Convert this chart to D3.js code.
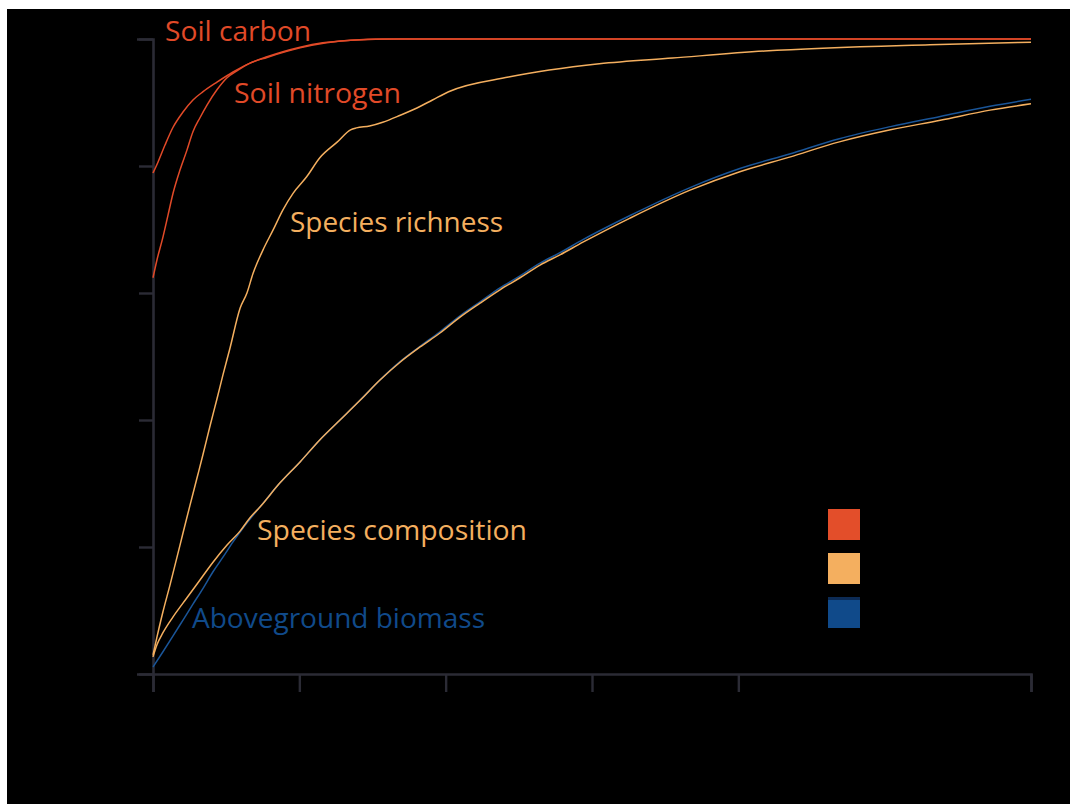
<!DOCTYPE html>
<html>
<head>
<meta charset="utf-8">
<script src="https://cdn.jsdelivr.net/npm/d3@7"></script>
<style>
  html, body { margin: 0; padding: 0; background: #ffffff; }
  svg { display: block; }
</style>
</head>
<body>
<svg id="chart" width="1070" height="804"></svg>
<script>
// ---- data (years since start, percent of reference level) ----
const soilCarbonX   = [0, 0.34, 0.82, 1.37, 2.05, 2.73, 3.42, 4.37, 5.47, 6.63, 7.79, 8.88, 10.05, 11.6, 13.5, 15.7, 30, 45, 60];
const soilCarbonY   = [78.9, 80.6, 83.3, 86.1, 88.5, 90.4, 91.7, 93.2, 94.8, 96.2, 97.2, 98.0, 98.7, 99.4, 99.8, 100, 100, 100, 100];

const soilNitrogenX = [0, 0.27, 0.68, 1.03, 1.37, 1.85, 2.32, 2.73, 3.21, 3.69, 4.37, 5.06, 5.81, 6.63, 7.79, 10.05, 13.5, 16.9, 30, 45, 60];
const soilNitrogenY = [62.4, 65.2, 68.8, 72.3, 75.7, 79.4, 82.5, 85.4, 87.6, 89.6, 92.0, 93.9, 95.1, 96.2, 97.1, 98.6, 99.8, 100, 100, 100, 100];

const richnessX = [0, 0.27, 0.68, 1.16, 1.64, 2.05, 2.53, 3.01, 3.42, 3.9, 4.37, 4.78, 5.26, 5.95, 6.42, 6.84, 7.52, 8.2, 8.88, 9.57, 10.5, 11.4, 12.6, 13.5, 13.9, 14.8, 15.7, 16.9, 18.0, 19.1, 20.2, 24.3, 30.5, 35.5, 41.8, 53.1, 60];
const richnessY = [3.0, 5.8, 9.8, 14.0, 18.4, 22.2, 26.6, 30.9, 34.6, 39.1, 43.3, 47.1, 51.3, 57.6, 60.0, 63.1, 66.8, 69.9, 73.1, 75.7, 78.3, 81.3, 83.8, 85.7, 86.0, 86.3, 86.9, 88.0, 89.1, 90.4, 91.7, 94.0, 96.1, 97.0, 98.1, 99.1, 99.5];

const compositionX = [0, 0.27, 0.68, 1.37, 2.32, 3.21, 4.1, 5.06, 5.95, 6.63, 7.31, 8.68, 10.05, 11.41, 12.78, 14.15, 15.51, 16.88, 18.25, 19.61, 20.98, 22.35, 23.71, 25.08, 26.45, 27.81, 29.38, 32.6, 36.7, 40.1, 43.5, 46.9, 50.4, 53.8, 57.2, 60];
const compositionY = [2.7, 4.6, 6.5, 9.0, 12.0, 14.8, 17.6, 20.3, 22.5, 24.6, 26.3, 30.1, 33.4, 36.9, 40.0, 43.1, 46.3, 49.1, 51.5, 53.7, 56.2, 58.4, 60.5, 62.4, 64.4, 66.0, 68.0, 71.8, 76.2, 79.1, 81.4, 83.8, 85.7, 87.2, 88.8, 89.8];

const biomassX = [0, 0.68, 1.37, 2.05, 2.73, 3.42, 4.1, 4.78, 5.47, 6.15, 6.84, 7.31, 8.68, 10.05, 11.41, 12.78, 14.15, 15.51, 16.88, 18.25, 19.61, 20.98, 22.35, 23.71, 25.08, 26.45, 27.81, 29.38, 32.6, 36.7, 40.1, 43.5, 46.9, 50.4, 53.8, 57.2, 60];
const biomassY = [1.1, 3.5, 6.0, 8.5, 11.0, 13.5, 16.1, 18.4, 20.8, 23.0, 25.0, 26.3, 30.1, 33.4, 36.9, 40.0, 43.1, 46.3, 49.2, 51.6, 53.9, 56.4, 58.6, 60.8, 62.7, 64.7, 66.35, 68.4, 72.2, 76.6, 79.6, 81.9, 84.3, 86.2, 87.8, 89.4, 90.5];

const xTicks = [0, 10, 20, 30, 40, 60];
const yTicks = [0, 20, 40, 60, 80, 100];

const seriesNames  = ["Soil carbon", "Soil nitrogen", "Species richness", "Aboveground biomass", "Species composition"];
const seriesColors = ["#e14a28", "#e14a28", "#f4af5f", "#1a5598", "#f4af5f"];
const labelColors  = ["#e14a28", "#e14a28", "#f4af5f", "#104a8a", "#f4af5f"];
const legendColors = ["#e34e2a", "#f4af5f", "#104a8a"];

// ---- drawing ----
const svg = d3.select("#chart");
svg.append("rect").attr("x", 0).attr("y", 0).attr("width", 1070).attr("height", 804).attr("fill", "#ffffff");
svg.append("rect").attr("x", 7).attr("y", 9).attr("width", 1063).attr("height", 795).attr("fill", "#000000");

const x = d3.scaleLinear().domain([0, 60]).range([153, 1031]);
const y = d3.scaleLinear().domain([0, 100]).range([674, 39]);

const axisColor = "#2b2b35";

const yAxis = svg.append("g").attr("transform", "translate(153,0)")
  .call(d3.axisLeft(y).tickValues(yTicks).tickSize(14).tickSizeOuter(16).tickFormat(""));
const xAxis = svg.append("g").attr("transform", "translate(0,674)")
  .call(d3.axisBottom(x).tickValues(xTicks).tickSize(18).tickSizeOuter(18).tickFormat(""));
[xAxis, yAxis].forEach(g => {
  g.selectAll("path").attr("stroke", axisColor).attr("stroke-width", 2.6).attr("fill", "none");
  g.selectAll("line").attr("stroke", axisColor).attr("stroke-width", 2.4);
});

const seriesX = [soilCarbonX, soilNitrogenX, richnessX, biomassX, compositionX];
const seriesY = [soilCarbonY, soilNitrogenY, richnessY, biomassY, compositionY];

const line = d3.line()
  .x(d => x(d[0]))
  .y(d => y(d[1]))
  .curve(d3.curveMonotoneX);

seriesNames.forEach((name, i) => {
  const pts = seriesX[i].map((v, j) => [v, seriesY[i][j]]);
  svg.append("path")
    .datum(pts)
    .attr("d", line)
    .attr("fill", "none")
    .attr("stroke", seriesColors[i])
    .attr("stroke-width", 1.5)
    .attr("stroke-linejoin", "round");
});

// ---- inline labels ----
const labelX = [165, 234, 290, 192, 257];
const labelY = [41, 103, 232, 628, 540];
const labelW = [146, 167, 213, 293, 270];
seriesNames.forEach((name, i) => {
  svg.append("text")
    .attr("x", labelX[i])
    .attr("y", labelY[i])
    .attr("fill", labelColors[i])
    .attr("font-family", "'Open Sans', sans-serif")
    .attr("font-size", 28)
    .attr("textLength", labelW[i])
    .attr("lengthAdjust", "spacingAndGlyphs")
    .text(name);
});

// ---- legend swatches ----
legendColors.forEach((c, i) => {
  svg.append("rect")
    .attr("x", 828)
    .attr("y", 509 + i * 44)
    .attr("width", 32)
    .attr("height", 31)
    .attr("fill", c);
});
svg.append("rect").attr("x", 828).attr("y", 597).attr("width", 32).attr("height", 3).attr("fill", "#0c2b55");
</script>
</body>
</html>
